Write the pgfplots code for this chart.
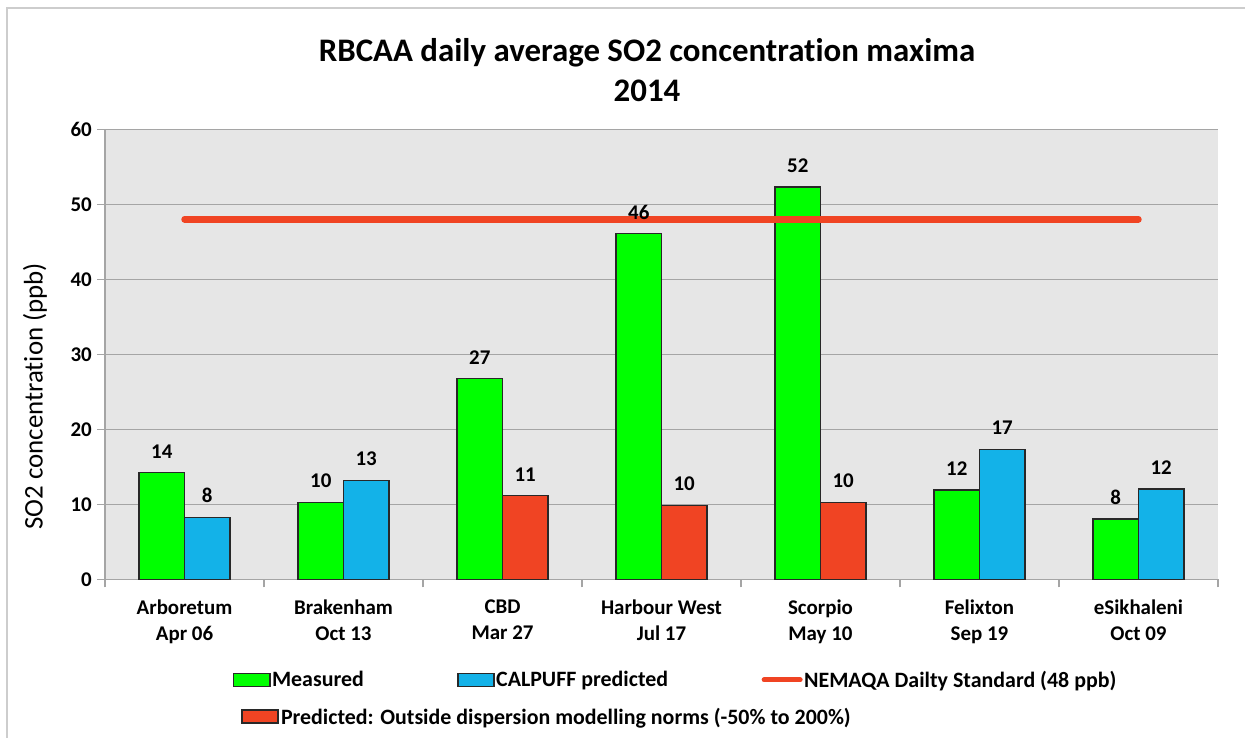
\documentclass[border=0pt]{standalone}
\usepackage{fontspec}
\setmainfont{Carlito}[Ligatures={NoCommon}]
\usepackage{pgfplots}
\pgfplotsset{compat=1.18}
\definecolor{mgreen}{RGB}{0,255,0}
\definecolor{mblue}{RGB}{19,178,232}
\definecolor{mred}{RGB}{240,68,35}
\definecolor{bggray}{RGB}{230,230,230}
\definecolor{gridgray}{RGB}{165,165,165}
\definecolor{framegray}{RGB}{205,205,205}
\definecolor{barline}{RGB}{40,40,40}
\newcommand{\lblfont}{\fontsize{21}{26}\selectfont\bfseries}
\newcommand{\legfont}{\fontsize{22}{26}\selectfont\bfseries}
\begin{document}
\begin{tikzpicture}[x=1bp,y=1bp]
\path[use as bounding box] (0,0) rectangle (1245,738);
\draw[framegray, line width=1.5bp] (7,0) -- (7,730) -- (1245,730);
\begin{axis}[
  at={(105bp,158.7bp)}, anchor=south west,
  scale only axis, width=1113bp, height=450bp,
  ybar,
  xmin=-0.5, xmax=6.5, ymin=0, ymax=60,
  axis lines*=left,
  axis line style={draw=gridgray, line width=1.5bp},
  axis background/.style={fill=bggray},
  ytick={0,10,...,60},
  ymajorgrids,
  grid style={draw=gridgray, line width=1.5bp},
  tick align=outside, major tick length=8bp,
  tick style={draw=gridgray, line width=1.5bp},
  xtick={-0.5,0.5,1.5,2.5,3.5,4.5,5.5,6.5}, xticklabels={},
  extra x ticks={0,1,2,3,4,5,6},
  extra x tick labels={{Arboretum\\Apr 06},{Brakenham\\Oct 13},{CBD\\Mar 27},{Harbour West\\Jul 17},{Scorpio\\May 10},{Felixton\\Sep 19},{eSikhaleni\\Oct 09}},
  extra x tick style={major tick length=0pt, grid=none},
  xticklabel style={align=center, font=\lblfont, inner sep=0pt, anchor=north, yshift=-20bp},
  yticklabel style={font=\lblfont, inner sep=0pt, anchor=east, xshift=-5bp},
  /pgf/number format/assume math mode=true,
  ylabel={SO2 concentration (ppb)},
  ylabel style={font=\fontsize{27}{31}\selectfont, at={(axis description cs:-0.063,0.407)}, anchor=center, rotate=0},
  title={RBCAA daily average SO2 concentration maxima\\2014},
  title style={font=\fontsize{33}{41}\selectfont\bfseries, align=center, at={(axis description cs:0.487,1)}, anchor=south, inner sep=0pt, yshift=21bp},
  legend columns=3,
  legend style={draw=none, fill=none, at={(axis description cs:0.115,-0.2)}, anchor=north west, inner sep=0pt,
    font=\legfont, row sep=16bp,
    nodes={inner sep=1.5bp},
    /tikz/every even column/.append style={column sep=92bp}},
  legend cell align=left,
  every node near coord/.append style={font=\lblfont, anchor=south, inner sep=0pt, yshift=14bp, color=black},
]
\addplot[bar shift=-0.143, bar width=0.286, fill=mgreen, draw=barline, line width=1.3bp,
  legend image code/.code={\draw[fill=mgreen, draw=barline, line width=1.3bp] (0bp,-6.5bp) rectangle (36bp,6.5bp);}]
  coordinates {(0,14.27) (1,10.27) (2,26.8) (3,46.1) (4,52.3) (5,11.9) (6,8.04)};
\addlegendentry{Measured}
\addplot[bar shift=0.143, bar width=0.286, fill=mblue, draw=barline, line width=1.3bp,
  nodes near coords={\pgfmathprintnumber[fixed,precision=0,assume math mode=true]{\pgfplotspointmeta}},
  legend image code/.code={\draw[fill=mblue, draw=barline, line width=1.3bp] (0bp,-6.5bp) rectangle (36bp,6.5bp);}]
  coordinates {(0,8.2) (1,13.15) (5,17.3) (6,12.04)};
\addlegendentry{CALPUFF predicted}
\addplot[sharp plot, draw=mred, line width=6.5bp, line cap=round,
  legend image code/.code={\draw[draw=mred, line width=5bp, line cap=round] (2bp,0bp) -- (38bp,0bp);}]
  coordinates {(0,48) (6,48)};
\addlegendentry{NEMAQA Dailty Standard (48 ppb)}
\addplot[bar shift=0.143, bar width=0.286, fill=mred, draw=barline, line width=1.3bp,
  nodes near coords={\pgfmathprintnumber[fixed,precision=0,assume math mode=true]{\pgfplotspointmeta}},
  legend image code/.code={\draw[overlay, fill=mred, draw=barline, line width=1.3bp] (8bp,-6.5bp) rectangle (44bp,6.5bp); \path (0bp,0bp) (36bp,0bp);}]
  coordinates {(2,11.15) (3,9.8) (4,10.2)};
\addlegendentry{\makebox[0pt][l]{\hspace*{9bp}Predicted: Outside dispersion modelling norms (-50\% to 200\%)}}
\addplot[forget plot, bar shift=-0.143, bar width=0.286, draw=none, fill=none,
  nodes near coords={\pgfmathprintnumber[fixed,precision=0,assume math mode=true]{\pgfplotspointmeta}}]
  coordinates {(0,14.27) (1,10.27) (2,26.8) (3,46.1) (4,52.3) (5,11.9) (6,8.04)};
\end{axis}
\end{tikzpicture}
\end{document}
